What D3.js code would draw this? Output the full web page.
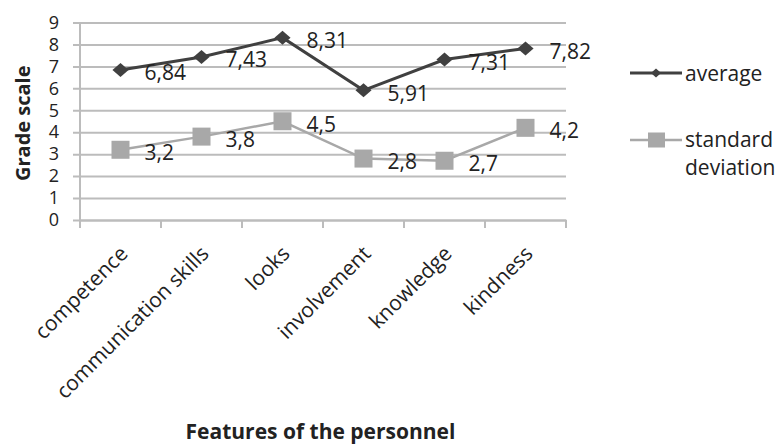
<!DOCTYPE html>
<html>
<head>
<meta charset="utf-8">
<script src="https://cdn.jsdelivr.net/npm/d3@7"></script>
<style>
  html, body { margin: 0; padding: 0; background: #fff; }
  svg { display: block; }
  text { font-family: "Open Sans", sans-serif; fill: #222; }
</style>
</head>
<body>
<svg id="chart" width="783" height="445"></svg>
<script>
const categories = ["competence", "communication skills", "looks", "involvement", "knowledge", "kindness"];
const averageValues = [6.84, 7.43, 8.31, 5.91, 7.31, 7.82];
const stdValues = [3.2, 3.8, 4.5, 2.8, 2.7, 4.2];
const averageLabels = ["6,84", "7,43", "8,31", "5,91", "7,31", "7,82"];
const stdLabels = ["3,2", "3,8", "4,5", "2,8", "2,7", "4,2"];
const yTicks = [0, 1, 2, 3, 4, 5, 6, 7, 8, 9];
const seriesNames = ["average", "standard deviation"];

(function () {
const svg = d3.select("#chart");
const pL = 80, pR = 566, pT = 22.5, pB = 220;
const gridColor = "#bcbcbc";
const avgColor = "#404040";
const stdColor = "#a8a8a8";
const textColor = "#333";
const fs = 21;

const x = d3.scaleBand().domain(categories).range([pL, pR]);
const y = d3.scaleLinear().domain([0, 9]).range([pB, pT]);
const cx = c => x(c) + x.bandwidth() / 2;

// gridlines + y axis
const yAxis = d3.axisLeft(y).tickValues(yTicks).tickSize(-(pR - pL)).tickSizeOuter(0).tickPadding(21);
const gy = svg.append("g").attr("transform", `translate(${pL},0)`).call(yAxis);
gy.select(".domain").remove();
gy.selectAll(".tick line").attr("stroke", gridColor).attr("stroke-width", 2).attr("x1", -7);
gy.selectAll(".tick text").attr("font-size", 18).attr("font-family", "DejaVu Sans").attr("fill", textColor);

// y axis line
svg.append("line").attr("x1", pL).attr("x2", pL).attr("y1", pT).attr("y2", pB + 8)
  .attr("stroke", gridColor).attr("stroke-width", 2);

// x axis
const xAxis = d3.axisBottom(x).tickSize(0).tickFormat("");
const gx = svg.append("g").attr("transform", `translate(0,${pB})`).call(xAxis);
gx.select(".domain").attr("stroke", gridColor).attr("stroke-width", 2);
gx.selectAll(".tick").remove();
const edges = categories.map(c => x(c)).concat([pR]);
svg.append("g").selectAll("line").data(edges).join("line")
  .attr("x1", d => d).attr("x2", d => d).attr("y1", pB).attr("y2", pB + 8)
  .attr("stroke", gridColor).attr("stroke-width", 2);

// x labels rotated
svg.append("g").selectAll("text").data(categories).join("text")
  .attr("transform", d => `translate(${cx(d) + 8.5},${pB + 35}) rotate(-45)`)
  .attr("text-anchor", "end")
  .attr("font-size", fs)
  .attr("fill", textColor)
  .text(d => d);

// series
const line = d3.line().x((d, i) => cx(categories[i])).y(d => y(d));

svg.append("path").datum(stdValues).attr("d", line)
  .attr("fill", "none").attr("stroke", stdColor).attr("stroke-width", 2.5);
svg.append("g").selectAll("rect").data(stdValues).join("rect")
  .attr("x", (d, i) => cx(categories[i]) - 9).attr("y", d => y(d) - 9)
  .attr("width", 18).attr("height", 18).attr("fill", stdColor);

svg.append("path").datum(averageValues).attr("d", line)
  .attr("fill", "none").attr("stroke", avgColor).attr("stroke-width", 3);
const diamond = d3.symbol().type(d3.symbolDiamond2).size(125);
svg.append("g").selectAll("path").data(averageValues).join("path")
  .attr("d", diamond)
  .attr("transform", (d, i) => `translate(${cx(categories[i])},${y(d)}) scale(1.15,1)`)
  .attr("fill", avgColor);

// data labels
svg.append("g").selectAll("text").data(averageValues).join("text")
  .attr("x", (d, i) => cx(categories[i]) + 24).attr("y", d => y(d) + 3)
  .attr("dy", "0.35em").attr("font-size", fs).attr("fill", textColor)
  .text((d, i) => averageLabels[i]);
svg.append("g").selectAll("text").data(stdValues).join("text")
  .attr("x", (d, i) => cx(categories[i]) + 24).attr("y", d => y(d) + 3)
  .attr("dy", "0.35em").attr("font-size", fs).attr("fill", textColor)
  .text((d, i) => stdLabels[i]);

// axis titles
svg.append("text").attr("transform", `translate(23,${(pT + pB) / 2 + 2}) rotate(-90)`)
  .attr("text-anchor", "middle").attr("dy", "0.35em")
  .attr("font-size", 20).attr("font-weight", "bold").attr("fill", "#222")
  .text("Grade scale");
svg.append("text").attr("x", 320.5).attr("y", 439)
  .attr("text-anchor", "middle")
  .attr("font-size", 21).attr("font-weight", "bold").attr("fill", "#222")
  .text("Features of the personnel");

// legend
const lg = svg.append("g");
lg.append("line").attr("x1", 630).attr("x2", 682).attr("y1", 73).attr("y2", 73)
  .attr("stroke", avgColor).attr("stroke-width", 3);
lg.append("path").attr("d", d3.symbol().type(d3.symbolDiamond2).size(50)).attr("transform", "translate(656,73) scale(1.15,1)").attr("fill", avgColor);
lg.append("text").attr("x", 685).attr("y", 74).attr("dy", "0.35em").attr("font-size", fs).attr("fill", textColor).text(seriesNames[0]);

lg.append("line").attr("x1", 630).attr("x2", 682).attr("y1", 140).attr("y2", 140)
  .attr("stroke", stdColor).attr("stroke-width", 2.5);
lg.append("rect").attr("x", 648).attr("y", 132.5).attr("width", 17).attr("height", 15).attr("fill", stdColor);
const t2 = lg.append("text").attr("x", 685).attr("y", 140).attr("dy", "0.35em").attr("font-size", fs).attr("fill", textColor);
t2.append("tspan").attr("x", 685).text("standard");
t2.append("tspan").attr("x", 685).attr("dy", "1.33em").text("deviation");
})();
</script>
</body>
</html>
